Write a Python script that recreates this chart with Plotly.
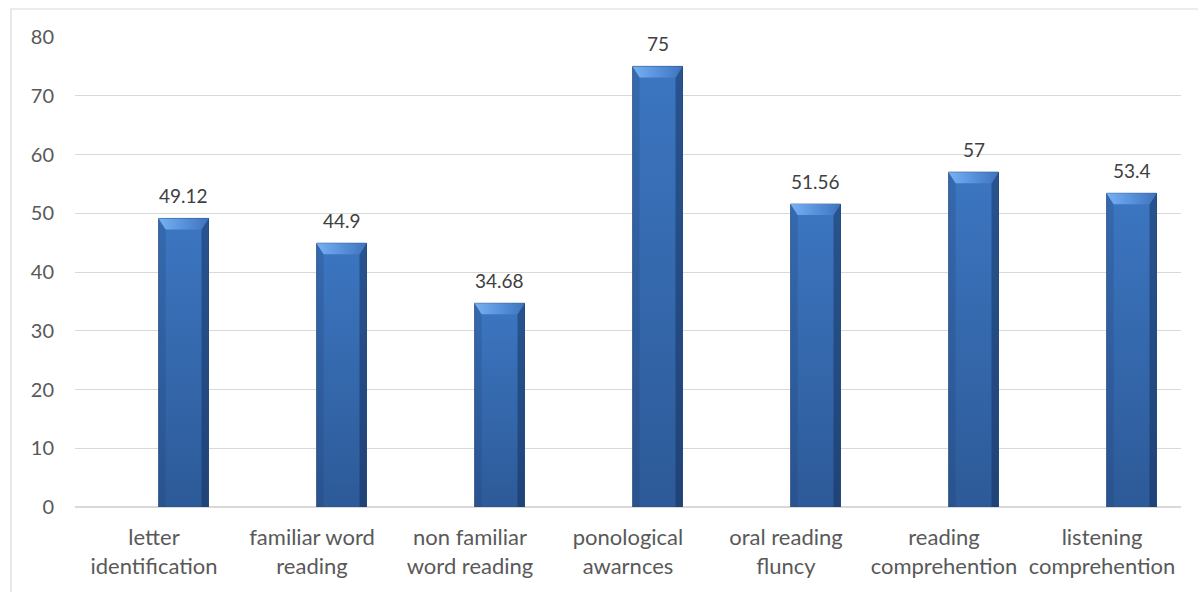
import numpy as np
import plotly.graph_objects as go

# ---- data ----
categories = [
    "letter<br>identification",
    "familiar word<br>reading",
    "non familiar<br>word reading",
    "ponological<br>awarnces",
    "oral reading<br>fluncy",
    "reading<br>comprehention",
    "listening<br>comprehention",
]
scores = [49.12, 44.9, 34.68, 75, 51.56, 57, 53.4]
score_labels = ["49.12", "44.9", "34.68", "75", "51.56", "57", "53.4"]
y_ticks = [0, 10, 20, 30, 40, 50, 60, 70, 80]

# ---- geometry (pixels) ----
W, H = 1198, 592
ML, MR, MT, MB = 75, 17, 37, 85
PW, PH = W - ML - MR, H - MT - MB
YMAX = 80
n = len(categories)
idx = np.arange(n)
BAR_W = 0.316          # bar width in category units
BAR_SHIFT = 0.187      # bars sit right of the category centre
centers = idx + BAR_SHIFT

ux = n / PW            # one pixel in x data units
uy = YMAX / PH         # one pixel in y data units
bx = 7 * ux            # bevel width
by = 11 * uy           # bevel height

FONT = "Lato"
fig = go.Figure()

# base bars
fig.add_trace(go.Bar(
    x=centers, y=scores, width=BAR_W,
    marker=dict(color="#366cb4", line=dict(width=0)),
    hoverinfo="y", showlegend=False,
))

# bevelled shading on each bar
for c, v in zip(centers, scores):
    x0, x1 = c - BAR_W / 2, c + BAR_W / 2
    # body with vertical gradient
    fig.add_trace(go.Scatter(
        x=[x0, x1, x1, x0, x0], y=[0, 0, v, v, 0],
        mode="lines", fill="toself", line=dict(width=0.8, color="#2b5187"),
        fillgradient=dict(type="vertical", start=0, stop=v,
                          colorscale=[[0, "#2d5a98"], [1, "#3c76c1"]]),
        hoverinfo="skip", showlegend=False,
    ))
    # left edge
    fig.add_trace(go.Scatter(
        x=[x0, x0 + bx, x0 + bx, x0, x0], y=[0, 0, v - by, v, 0],
        mode="lines", fill="toself", line=dict(width=0),
        fillcolor="rgba(30,60,110,0.22)",
        hoverinfo="skip", showlegend=False,
    ))
    # right edge shade
    fig.add_trace(go.Scatter(
        x=[x1, x1 - bx, x1 - bx, x1, x1], y=[0, 0, v - by, v, 0],
        mode="lines", fill="toself", line=dict(width=0),
        fillcolor="rgba(15,35,75,0.42)",
        hoverinfo="skip", showlegend=False,
    ))
    # top bevel
    fig.add_trace(go.Scatter(
        x=[x0, x1, x1 - bx, x0 + bx, x0], y=[v, v, v - by, v - by, v],
        mode="lines", fill="toself", line=dict(width=0),
        fillgradient=dict(type="horizontal", start=x0, stop=x1,
                          colorscale=[[0, "#78b0f2"], [0.5, "#5892dc"], [1, "#3f73bb"]]),
        hoverinfo="skip", showlegend=False,
    ))

# value labels above bars
for c, v, t in zip(centers, scores, score_labels):
    fig.add_annotation(
        x=c, y=v, text=t, showarrow=False, yanchor="bottom", yshift=9,
        font=dict(family=FONT, size=19, color="#404040"),
    )

# outer chart frame
fig.add_shape(
    type="rect", xref="paper", yref="paper",
    x0=(11 - ML) / PW, x1=(W + 2 - ML) / PW,
    y0=-(H + 10 - MT - PH) / PH, y1=1 + (MT - 9) / PH,
    line=dict(color="#d9d9d9", width=1.2), fillcolor="rgba(0,0,0,0)", layer="below",
)

fig.update_layout(
    width=W, height=H,
    margin=dict(l=ML, r=MR, t=MT, b=MB, pad=0),
    paper_bgcolor="white", plot_bgcolor="white",
    showlegend=False,
    bargap=0,
    font=dict(family=FONT, color="#595959", size=20),
)
fig.update_xaxes(
    range=[-0.5, n - 0.5], tickmode="array", tickvals=idx, ticktext=categories,
    showgrid=False, zeroline=False, showline=False, ticks="",
    tickfont=dict(family=FONT, size=22, color="#595959"),
    ticklabelstandoff=15,
)
fig.update_yaxes(
    range=[0, YMAX], tickmode="array", tickvals=y_ticks,
    showgrid=True, gridcolor="#d9d9d9", gridwidth=1,
    zeroline=True, zerolinecolor="#d9d9d9", zerolinewidth=1.5,
    showline=False, ticks="",
    tickfont=dict(family=FONT, size=20, color="#595959"),
    ticklabelstandoff=20,
)

fig.write_html("out.html")
